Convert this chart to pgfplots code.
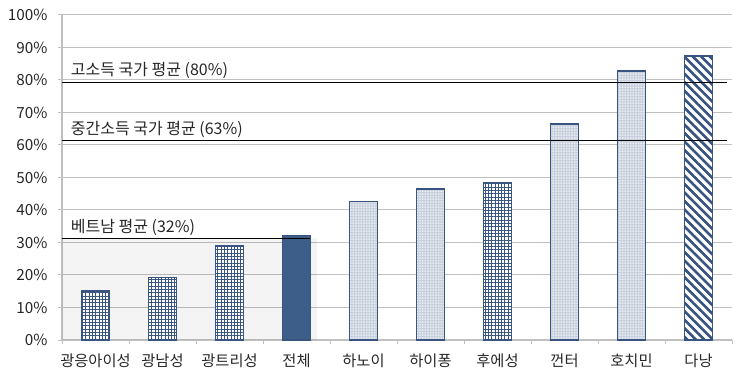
\documentclass[border=0pt]{standalone}
\usepackage{pgfplots}
\pgfplotsset{compat=1.18}
\usepackage{fontspec}
\setmainfont{Noto Sans CJK KR}
\usetikzlibrary{patterns.meta}
\definecolor{bdark}{RGB}{55,85,128}
\definecolor{bsolid}{RGB}{61,94,136}
\definecolor{blight}{RGB}{196,205,219}
\definecolor{gridc}{RGB}{192,192,192}
\begin{document}
\begin{tikzpicture}
\begin{axis}[
  scale only axis, width=670pt, height=325pt,
  xmin=-0.5, xmax=9.5, ymin=0, ymax=100,
  axis x line*=bottom, axis y line*=left,
  axis line style={gridc, line width=1.2pt},
  ybar, bar width=28pt, bar shift=0pt,
  ytick={0,10,...,100},
  yticklabel={\pgfmathprintnumber{\tick}\%},
  /pgf/number format/assume math mode=true,
  ymajorgrids, grid style={gridc, line width=1pt},
  xtick={-0.5,0.5,...,9.5}, xticklabels={},
  extra x ticks={0,1,...,9},
  extra x tick labels={광응아이성,광남성,광트리성,전체,하노이,하이퐁,후에성,껀터,호치민,다낭},
  extra x tick style={major tick length=0pt, grid=none},
  tick align=outside, major tick length=4pt,
  tick style={gridc, line width=1pt},
  ticklabel style={font=\fontsize{15.3}{17}\selectfont, text=black!85},
  xticklabel style={yshift=-10pt},
  yticklabel style={xshift=-7pt},
]
% shaded region
\addplot[sharp plot, draw=none, fill=black, fill opacity=0.045] coordinates {(-0.5,0) (-0.5,31.3) (3.3,31.3) (3.3,0)} -- cycle;
% grid-pattern bars
\addplot[draw=none, preaction={fill=white}, pattern={Hatch[distance=3.3pt, line width=1pt]}, pattern color=bdark, postaction={draw=bdark, line width=1.8pt}] coordinates {(0,15.0) (1,19.2) (2,28.9) (6,48.4)};
% solid bar
\addplot[draw=bdark, line width=1.5pt, fill=bsolid] coordinates {(3,32.1)};
% dotted bars
\addplot[draw=none, preaction={fill=blight}, pattern={Dots[distance=1.6pt, radius=0.35pt]}, pattern color=white, postaction={draw=bdark, line width=1.8pt}] coordinates {(4,42.6) (5,46.5) (7,66.5) (8,82.7)};
% striped bar
\addplot[draw=none, preaction={fill=white}, pattern={Lines[angle=-45, distance=6pt, line width=2.3pt]}, pattern color=bdark, postaction={draw=bdark, line width=1.8pt}] coordinates {(9,87.4)};
% reference lines
\addplot[sharp plot, black, line width=1.1pt, mark=none] coordinates {(-0.5,79.3) (9.42,79.3)};
\addplot[sharp plot, black, line width=1.1pt, mark=none] coordinates {(-0.5,61.5) (9.42,61.5)};
\addplot[sharp plot, black, line width=1.1pt, mark=none] coordinates {(-0.5,31.3) (3.2,31.3)};
\node[anchor=base west, font=\fontsize{16}{18}\selectfont, text=black!85] at (axis cs:-0.42,81.3) {고소득 국가 평균 (80\%)};
\node[anchor=base west, font=\fontsize{16}{18}\selectfont, text=black!85] at (axis cs:-0.42,63.3) {중간소득 국가 평균 (63\%)};
\node[anchor=base west, font=\fontsize{16}{18}\selectfont, text=black!85] at (axis cs:-0.42,33.2) {베트남 평균 (32\%)};
\end{axis}
\pgfresetboundingbox
\path[use as bounding box] ([shift={(-62pt,-42pt)}]current axis.south west) rectangle ([shift={(8pt,15pt)}]current axis.north east);
\end{tikzpicture}
\end{document}
